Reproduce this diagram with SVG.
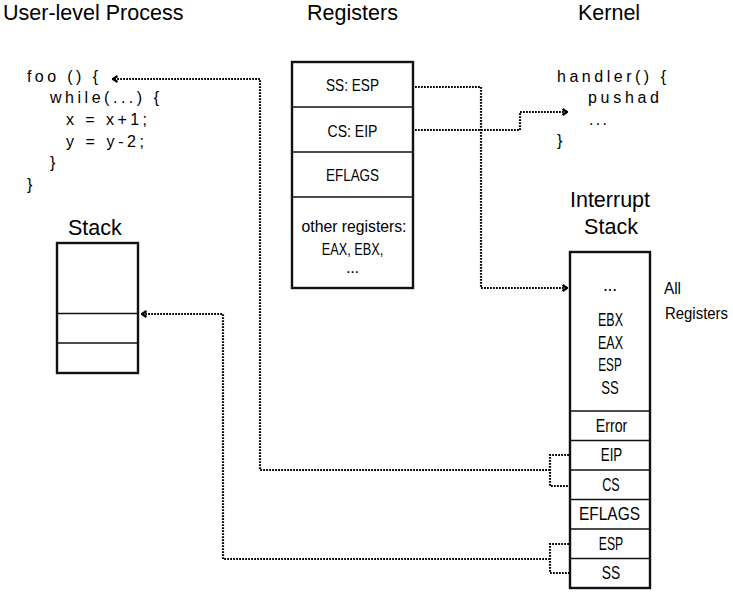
<svg xmlns="http://www.w3.org/2000/svg" width="733" height="598" viewBox="0 0 733 598">
<style>
.title{font-family:"Liberation Sans",Arial,sans-serif;font-size:21.5px;fill:#000}
.code{font-family:"Liberation Sans",Arial,sans-serif;font-size:16px;fill:#000}
.reg{font-family:"Liberation Sans",Arial,sans-serif;font-size:16.5px;fill:#000;text-anchor:middle}
.stk{font-family:"Liberation Sans",Arial,sans-serif;font-size:17.5px;fill:#000;text-anchor:middle}
.lbl{font-family:"Liberation Sans",Arial,sans-serif;font-size:16px;fill:#000}
.box{fill:#fff;stroke:#111;stroke-width:2.4}
.div{stroke:#111;stroke-width:1.7}
.dot{fill:none;stroke:#000;stroke-width:2.2;stroke-dasharray:1.8 1.2}
</style>
<defs>
<marker id="arr" viewBox="0 0 8 8" refX="7" refY="4" markerWidth="8" markerHeight="8" orient="auto" markerUnits="userSpaceOnUse">
<path d="M2.5,1 L7,4 L2.5,7" fill="none" stroke="#000" stroke-width="2.2"/>
</marker>
</defs>
<rect width="733" height="598" fill="#fff"/>

<g id="titles">
<text class="title" x="3" y="19.5">User-level Process</text>
<text class="title" x="352.5" y="19.5" text-anchor="middle">Registers</text>
<text class="title" x="578" y="19.5">Kernel</text>
</g>

<g id="user-code">
<text class="code" x="27" y="82" textLength="71" lengthAdjust="spacing">foo () {</text>
<text class="code" x="50" y="103" textLength="109" lengthAdjust="spacing">while(...) {</text>
<text class="code" x="66" y="125" textLength="81" lengthAdjust="spacing">x = x+1;</text>
<text class="code" x="66" y="146.5" textLength="78" lengthAdjust="spacing">y = y-2;</text>
<text class="code" x="50" y="168">}</text>
<text class="code" x="27" y="190">}</text>
</g>

<g id="kernel-code">
<text class="code" x="557" y="82" textLength="109" lengthAdjust="spacing">handler() {</text>
<text class="code" x="588" y="103" textLength="71" lengthAdjust="spacing">pushad</text>
<text class="code" x="589" y="125" textLength="18" lengthAdjust="spacing">...</text>
<text class="code" x="557" y="146">}</text>
</g>

<g id="registers">
<rect class="box" x="292" y="62" width="121" height="226"/>
<line class="div" x1="292" y1="107" x2="413" y2="107"/>
<line class="div" x1="292" y1="152" x2="413" y2="152"/>
<line class="div" x1="292" y1="197" x2="413" y2="197"/>
<text class="reg" x="352.5" y="91" textLength="53" lengthAdjust="spacingAndGlyphs">SS: ESP</text>
<text class="reg" x="352.5" y="136.5" textLength="50" lengthAdjust="spacingAndGlyphs">CS: EIP</text>
<text class="reg" x="352.5" y="180.5" textLength="53" lengthAdjust="spacingAndGlyphs">EFLAGS</text>
<text class="reg" x="354" y="232" textLength="105" lengthAdjust="spacingAndGlyphs">other registers:</text>
<text class="reg" x="352.5" y="255" textLength="61.5" lengthAdjust="spacingAndGlyphs">EAX, EBX,</text>
<text class="reg" x="352.5" y="272.5" textLength="13" lengthAdjust="spacing">...</text>
</g>

<g id="user-stack">
<text class="title" x="68" y="235">Stack</text>
<rect class="box" x="57" y="243" width="81" height="130"/>
<line class="div" x1="57" y1="313.5" x2="138" y2="313.5"/>
<line class="div" x1="57" y1="343" x2="138" y2="343"/>
</g>

<g id="interrupt-stack">
<text class="title" x="610" y="207" text-anchor="middle">Interrupt</text>
<text class="title" x="611" y="233.5" text-anchor="middle">Stack</text>
<rect class="box" x="570" y="252" width="80" height="336"/>
<line class="div" x1="570" y1="411" x2="650" y2="411" stroke-width="2.2"/>
<line class="div" x1="570" y1="440.5" x2="650" y2="440.5"/>
<line class="div" x1="570" y1="470" x2="650" y2="470"/>
<line class="div" x1="570" y1="499.5" x2="650" y2="499.5"/>
<line class="div" x1="570" y1="529" x2="650" y2="529"/>
<line class="div" x1="570" y1="558.5" x2="650" y2="558.5"/>
<text class="stk" x="610" y="291" textLength="14" lengthAdjust="spacing">...</text>
<text class="stk" x="610.5" y="326" textLength="25" lengthAdjust="spacingAndGlyphs">EBX</text>
<text class="stk" x="610.5" y="348.5" textLength="25" lengthAdjust="spacingAndGlyphs">EAX</text>
<text class="stk" x="610" y="371" textLength="23.5" lengthAdjust="spacingAndGlyphs">ESP</text>
<text class="stk" x="610" y="394" textLength="17.5" lengthAdjust="spacingAndGlyphs">SS</text>
<text class="stk" x="611.5" y="431.5" textLength="31.5" lengthAdjust="spacingAndGlyphs">Error</text>
<text class="stk" x="611.5" y="461" textLength="21.5" lengthAdjust="spacingAndGlyphs">EIP</text>
<text class="stk" x="611" y="490.5" textLength="17.5" lengthAdjust="spacingAndGlyphs">CS</text>
<text class="stk" x="609.5" y="520" textLength="61" lengthAdjust="spacingAndGlyphs">EFLAGS</text>
<text class="stk" x="611" y="549.5" textLength="24.5" lengthAdjust="spacingAndGlyphs">ESP</text>
<text class="stk" x="611" y="579" textLength="18.5" lengthAdjust="spacingAndGlyphs">SS</text>
<text class="lbl" x="664" y="294" textLength="17" lengthAdjust="spacingAndGlyphs">All</text>
<text class="lbl" x="665" y="319" textLength="63" lengthAdjust="spacingAndGlyphs">Registers</text>
</g>

<g id="connectors">
<path class="dot" d="M415,87 H481 V288 H567" marker-end="url(#arr)"/>
<path class="dot" d="M415,130 H520 V112 H567" marker-end="url(#arr)"/>
<path class="dot" d="M569,455 H550 V486 H569"/>
<path class="dot" d="M550,470 H260 V79 H113" marker-end="url(#arr)"/>
<path class="dot" d="M569,544 H550 V573 H569"/>
<path class="dot" d="M550,559 H223 V314 H142" marker-end="url(#arr)"/>
</g>
</svg>
